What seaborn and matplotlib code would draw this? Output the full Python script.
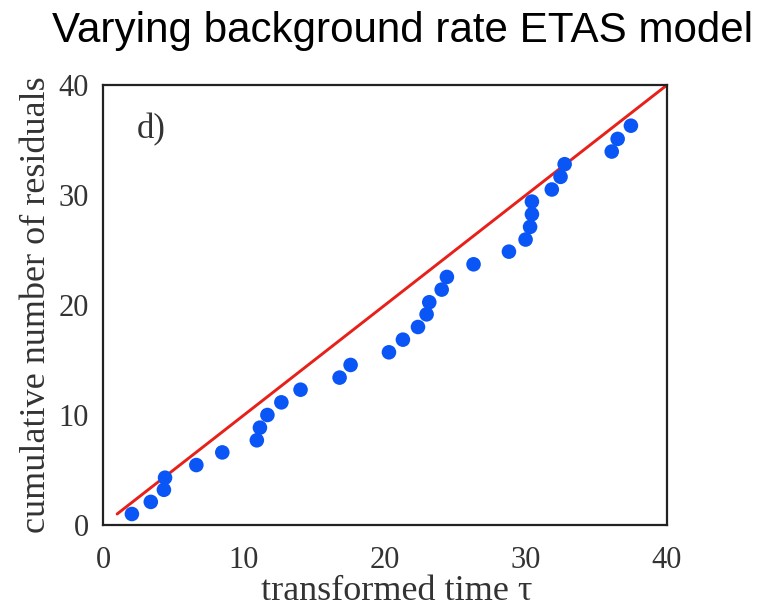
import numpy as np
import pandas as pd
import matplotlib
matplotlib.use("Agg")
import matplotlib.pyplot as plt
import seaborn as sns

# Data
tau = [2.05, 3.39, 4.32, 4.40, 6.62, 8.46, 10.91, 11.13, 11.66, 12.65, 14.01,
       16.78, 17.56, 20.28, 21.27, 22.34, 22.95, 23.14, 24.02, 24.39, 26.28,
       28.79, 29.97, 30.29, 30.42, 30.42, 31.83, 32.45, 32.74, 36.08, 36.50, 37.44]
cum_resid = [1.0, 2.1, 3.2, 4.3, 5.45, 6.6, 7.7, 8.85, 10.0, 11.15, 12.3,
             13.4, 14.55, 15.7, 16.85, 18.0, 19.15, 20.25, 21.4, 22.55, 23.7,
             24.85, 25.95, 27.1, 28.25, 29.4, 30.5, 31.65, 32.8, 33.95, 35.1, 36.3]
ref_x = [1.0, 40.0]
ref_y = [1.0, 40.0]
xticks = [0, 10, 20, 30, 40]
yticks = [0, 10, 20, 30, 40]

df = pd.DataFrame({"tau": tau, "n": cum_resid})
ref = pd.DataFrame({"x": ref_x, "y": ref_y})

sns.set_theme(style="white")
plt.rcParams['font.family'] = ['Liberation Serif', 'DejaVu Serif']

fig = plt.figure(figsize=(7.78, 6.12), dpi=100)
ax = fig.add_axes([103/778, 1-525/612, (667-103)/778, (525-85)/612])

sns.lineplot(data=ref, x="x", y="y", ax=ax, color="#e8201a", linewidth=2.1)
sns.scatterplot(data=df, x="tau", y="n", ax=ax, color="#0a55f5", s=110,
                edgecolor="none", zorder=3)

ax.set_xlim(0, 40)
ax.set_ylim(0, 40)
ax.set_xticks(xticks)
ax.set_yticks(yticks)
ax.set_xticklabels([str(t) for t in xticks])
ax.set_yticklabels([str(t) for t in yticks])
ax.tick_params(axis="both", direction="in", length=4, width=1.2, colors="#222222",
               labelsize=22, labelcolor="#333333")
ax.tick_params(axis="x", pad=15)
ax.tick_params(axis="y", pad=10)
for sp in ax.spines.values():
    sp.set_color("#222222")
    sp.set_linewidth(1.6)

ax.set_xlabel("transformed time τ", fontsize=26, color="#333333")
ax.xaxis.set_label_coords(0.52, -0.152, transform=ax.transAxes)
ax.xaxis.label.set_va("center")
ax.set_ylabel("cumulative number of residuals", fontsize=26, color="#333333", labelpad=4)

ax.text(2.4, 35.9, "d)", fontsize=25, color="#333333", va="center", ha="left")

fig.text(0.518, 0.95, "Varying background rate ETAS model", fontsize=30.3,
         family="Liberation Sans", color="black", ha="center", va="center")

fig.savefig("out.png", dpi=100)
